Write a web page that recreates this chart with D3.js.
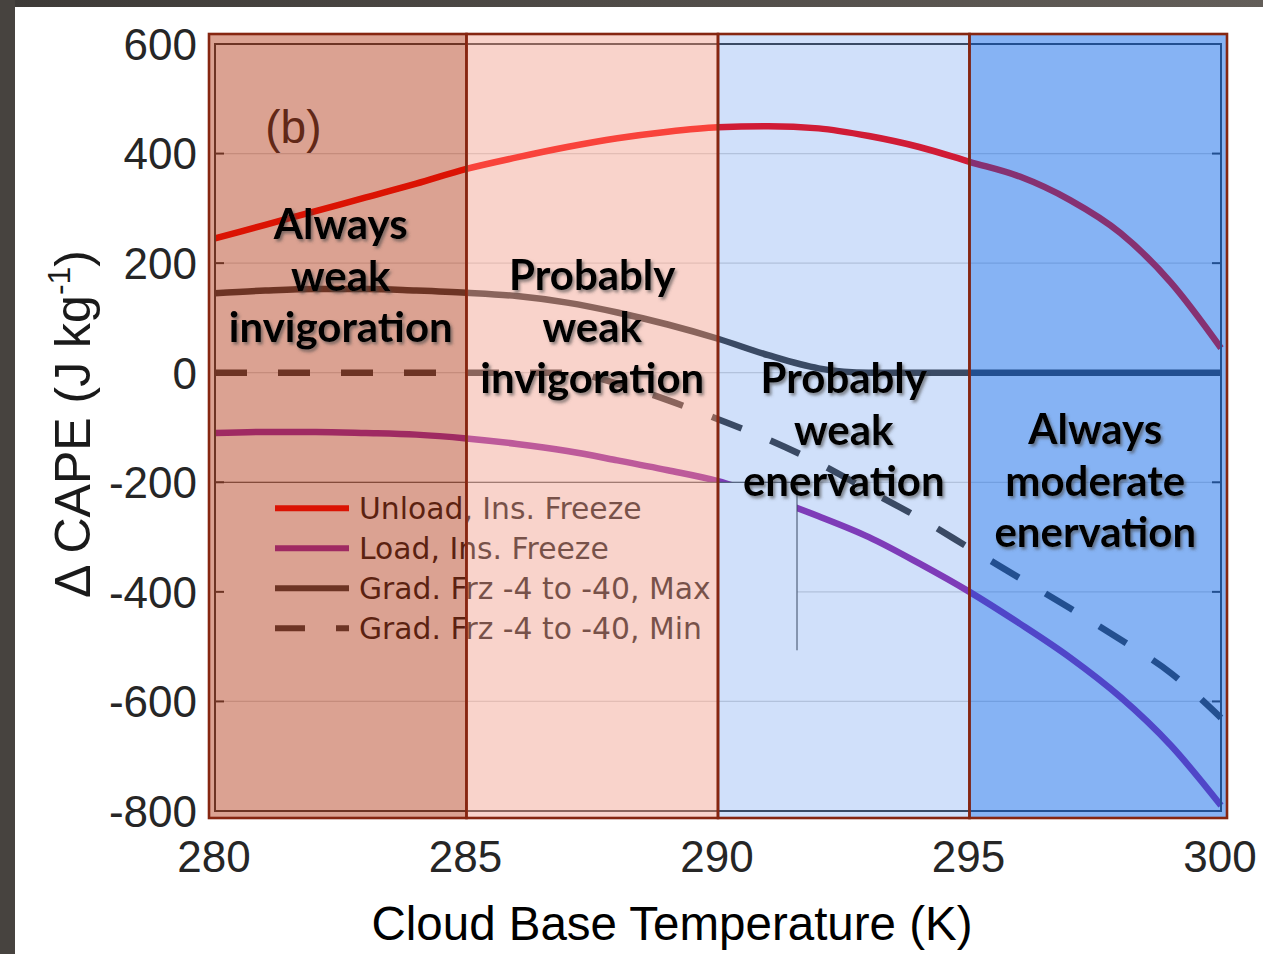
<!DOCTYPE html>
<html>
<head>
<meta charset="utf-8">
<script src="https://cdn.jsdelivr.net/npm/d3@7"></script>
<style>
  body { margin: 0; background: #fff; }
</style>
</head>
<body>
<div id="container"></div>
<script>
// values
const temps      = [280, 281, 282, 283, 284, 285, 286, 287, 288, 289, 290, 291, 292, 293, 294, 295, 296, 297, 298, 299, 300];
const unloadIns  = [245, 270, 295, 320, 345, 372, 393, 412, 428, 440, 448, 450, 446, 432, 412, 385, 358, 315, 255, 165, 45];
const loadIns    = [-110, -108, -108, -110, -113, -120, -130, -143, -160, -178, -198, -228, -262, -300, -348, -400, -458, -520, -592, -680, -790];
const gradMax    = [145, 150, 153, 153, 150, 146, 140, 128, 110, 88, 62, 32, 8, 0, 0, 0, 0, 0, 0, 0, 0];
const gradMin    = [0, 0, 0, 0, 0, 0, 0, 0, -20, -50, -85, -122, -165, -215, -265, -320, -375, -430, -487, -548, -630];

const seriesNames = ["Unload, Ins. Freeze", "Load, Ins. Freeze", "Grad. Frz -4 to -40, Max", "Grad. Frz -4 to -40, Min"];
const xTicks = [280, 285, 290, 295, 300];
const yTicks = [600, 400, 200, 0, -200, -400, -600, -800];

const regionEdges  = [280, 285, 290, 295, 300];
const regionLabels = [
    ["Always", "weak", "invigoration"],
    ["Probably", "weak", "invigoration"],
    ["Probably", "weak", "enervation"],
    ["Always", "moderate", "enervation"]
];
const regionLabelTop = [270, 177, -11, -104]; // first line centre, in CAPE units

// styling
const lineColors = ["#ff0000", "#952aa9", "#3c3c3c", "#3c3c3c"];
const overlay = [
    {fill: "rgb(172,44,7)",   op: 0.44},
    {fill: "rgb(241,154,136)", op: 0.435},
    {fill: "rgb(52,122,235)", op: 0.23},
    {fill: "rgb(8,100,233)",  op: 0.49}
];

const W = 1263, H = 954;
const svg = d3.select("#container").append("svg")
    .attr("width", W)
    .attr("height", H)
    .style("display", "block");

const defs = svg.append("defs");
const grad = defs.append("linearGradient").attr("id", "frameGrad");
grad.append("stop").attr("offset", "0%").attr("stop-color", "#3d3a37");
grad.append("stop").attr("offset", "100%").attr("stop-color", "#635e59");

const shadow = defs.append("filter").attr("id", "shadow")
    .attr("x", "-10%").attr("y", "-20%").attr("width", "120%").attr("height", "140%");
shadow.append("feDropShadow")
    .attr("dx", 2).attr("dy", 2.5)
    .attr("stdDeviation", 1.6)
    .attr("flood-color", "#444")
    .attr("flood-opacity", 0.6);

// slide frame
svg.append("rect").attr("x", 0).attr("y", 0).attr("width", W).attr("height", 7).attr("fill", "url(#frameGrad)");
svg.append("rect").attr("x", 0).attr("y", 0).attr("width", 15).attr("height", H).attr("fill", "#47433f");

const x = d3.scaleLinear().domain([280, 300]).range([215, 1221]);
const y = d3.scaleLinear().domain([-800, 600]).range([811, 44]);

// grid
svg.append("g").selectAll("line")
    .data(yTicks)
    .enter().append("line")
    .attr("x1", x(280)).attr("x2", x(300))
    .attr("y1", d => y(d)).attr("y2", d => y(d))
    .attr("stroke", "#d8d8d8").attr("stroke-width", 1.2);
svg.append("g").selectAll("line")
    .data(xTicks)
    .enter().append("line")
    .attr("x1", d => x(d)).attr("x2", d => x(d))
    .attr("y1", y(600)).attr("y2", y(-800))
    .attr("stroke", "#d8d8d8").attr("stroke-width", 1.2);

// data lines
const series = [unloadIns, loadIns, gradMax, gradMin];
const line = d3.line()
    .x((d, i) => x(temps[i]))
    .y(d => y(d))
    .curve(d3.curveMonotoneX);

svg.append("g").selectAll("path")
    .data(series)
    .enter().append("path")
    .attr("d", line)
    .attr("fill", "none")
    .attr("stroke", (d, i) => lineColors[i])
    .attr("stroke-width", 6.5)
    .attr("stroke-dasharray", (d, i) => i == 3 ? "32,31" : null);

// legend
const legX = x(280), legY = y(-200), legW = 582, legH = 168;
const legend = svg.append("g");
legend.append("rect")
    .attr("x", legX).attr("y", legY)
    .attr("width", legW).attr("height", legH)
    .attr("fill", "#fff");
legend.append("path")
    .attr("d", "M" + legX + "," + (legY + legH) + "V" + legY + "H" + (legX + legW) + "V" + (legY + legH))
    .attr("fill", "none")
    .attr("stroke", "#3c3c3c").attr("stroke-width", 1);

const legItem = legend.selectAll(".leg")
    .data(seriesNames)
    .enter().append("g")
    .attr("class", "leg")
    .attr("transform", (d, i) => "translate(" + (legX + 60) + "," + (legY + 26 + i * 40) + ")");
legItem.append("line")
    .attr("x1", 0).attr("x2", 74)
    .attr("stroke", (d, i) => lineColors[i])
    .attr("stroke-width", 6)
    .attr("stroke-dasharray", (d, i) => i == 3 ? "30,31" : null);
legItem.append("text")
    .attr("x", 84).attr("y", 11)
    .attr("font-family", "DejaVu Sans")
    .attr("font-size", 29.8)
    .attr("fill", "#1a1a1a")
    .text(d => d);

// axes box + inside ticks
svg.append("rect")
    .attr("x", x(280)).attr("y", y(600))
    .attr("width", x(300) - x(280)).attr("height", y(-800) - y(600))
    .attr("fill", "none").attr("stroke", "#3c3c3c").attr("stroke-width", 2);
const tk = svg.append("g").attr("stroke", "#3c3c3c").attr("stroke-width", 2);
yTicks.forEach(v => {
    tk.append("line").attr("x1", x(280)).attr("x2", x(280) + 9).attr("y1", y(v)).attr("y2", y(v));
    tk.append("line").attr("x1", x(300)).attr("x2", x(300) - 9).attr("y1", y(v)).attr("y2", y(v));
});
xTicks.forEach(v => {
    tk.append("line").attr("x1", x(v)).attr("x2", x(v)).attr("y1", y(600)).attr("y2", y(600) + 9);
    tk.append("line").attr("x1", x(v)).attr("x2", x(v)).attr("y1", y(-800)).attr("y2", y(-800) - 9);
});

svg.append("text")
    .attr("x", x(281)).attr("y", y(400) - 11)
    .attr("font-family", "Liberation Sans, Arial, sans-serif")
    .attr("font-size", 46)
    .attr("fill", "#262626")
    .text("(b)");

// coloured region overlays
const regions = d3.range(4).map(i => ({lo: regionEdges[i], hi: regionEdges[i + 1], i: i}));
const rx0 = r => r.i == 0 ? x(r.lo) - 6 : x(r.lo);
const rx1 = r => r.i == 3 ? x(r.hi) + 6 : x(r.hi);
const boxTop = y(600) - 10, boxBottom = y(-800) + 7;

svg.append("g").selectAll("rect")
    .data(regions)
    .enter().append("rect")
    .attr("x", rx0).attr("y", boxTop)
    .attr("width", r => rx1(r) - rx0(r)).attr("height", boxBottom - boxTop)
    .attr("fill", r => overlay[r.i].fill)
    .attr("fill-opacity", r => overlay[r.i].op)
    .attr("stroke", "#862611")
    .attr("stroke-width", 2.6);

// tick labels
svg.append("g").selectAll("text")
    .data(yTicks)
    .enter().append("text")
    .attr("x", 197).attr("y", d => y(d))
    .attr("dy", "0.36em")
    .attr("text-anchor", "end")
    .attr("font-family", "Liberation Sans, Arial, sans-serif")
    .attr("font-size", 44)
    .attr("fill", "#262626")
    .text(d => d);
svg.append("g").selectAll("text")
    .data(xTicks)
    .enter().append("text")
    .attr("x", d => x(d) - 1).attr("y", 872)
    .attr("text-anchor", "middle")
    .attr("font-family", "Liberation Sans, Arial, sans-serif")
    .attr("font-size", 44)
    .attr("fill", "#262626")
    .text(d => d);

// axis titles
svg.append("text")
    .attr("x", 672).attr("y", 940)
    .attr("text-anchor", "middle")
    .attr("font-family", "Liberation Sans, Arial, sans-serif")
    .attr("font-size", 47.5)
    .attr("fill", "#000")
    .text("Cloud Base Temperature (K)");

const yTitle = svg.append("text")
    .attr("transform", "translate(90,424) rotate(-90)")
    .attr("text-anchor", "middle")
    .attr("font-family", "Liberation Sans, Arial, sans-serif")
    .attr("font-size", 50)
    .attr("fill", "#1a1a1a");
yTitle.append("tspan").text("\u0394 CAPE (J kg");
yTitle.append("tspan").attr("dy", -20).attr("font-size", 32).text("-1");
yTitle.append("tspan").attr("dy", 20).text(")");

// region annotations
const ann = svg.append("g")
    .attr("font-family", "Lato, sans-serif")
    .attr("font-weight", "bold")
    .attr("font-size", 42)
    .attr("fill", "#000")
    .attr("text-anchor", "middle")
    .attr("filter", "url(#shadow)");
regions.forEach(r => {
    const t = ann.append("text")
        .attr("x", x((r.lo + r.hi) / 2))
        .attr("y", y(regionLabelTop[r.i]));
    regionLabels[r.i].forEach((w, k) => {
        t.append("tspan")
            .attr("x", x((r.lo + r.hi) / 2))
            .attr("dy", k == 0 ? "0.35em" : 51.5)
            .text(w);
    });
});
</script>
</body>
</html>
